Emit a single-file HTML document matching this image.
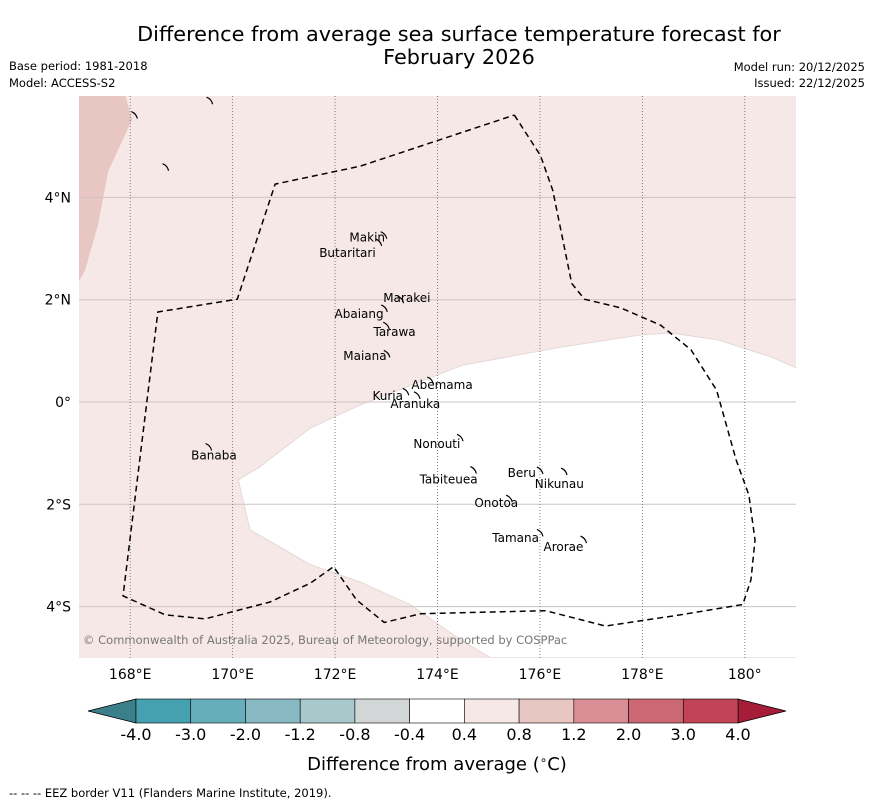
<!DOCTYPE html>
<html><head><meta charset="utf-8">
<style>
body{margin:0;background:#fff;width:873px;height:804px;overflow:hidden;font-family:"Liberation Sans","DejaVu Sans",sans-serif;}
svg text{font-family:"DejaVu Sans","Liberation Sans",sans-serif;}
</style></head>
<body>
<svg id="chart" width="873" height="804" xmlns="http://www.w3.org/2000/svg">
<text x="459" y="41" font-size="20.8" text-anchor="middle">Difference from average sea surface temperature forecast for</text>
<text x="459" y="64" font-size="20.8" text-anchor="middle">February 2026</text>
<text x="9" y="70" font-size="11.5">Base period: 1981-2018</text>
<text x="9" y="87" font-size="11.5">Model: ACCESS-S2</text>
<text x="865" y="71" font-size="11.5" text-anchor="end">Model run: 20/12/2025</text>
<text x="865" y="87" font-size="11.5" text-anchor="end">Issued: 22/12/2025</text>
<g id="map"></g>
<g id="cbar"></g>
<text x="437" y="770" font-size="18" text-anchor="middle">Difference from average (<tspan font-size="12" dy="-6">∘</tspan><tspan dy="6">C)</tspan></text>
<text x="9" y="797" font-size="11.5">--  --  -- EEZ border V11 (Flanders Marine Institute, 2019).</text>
</svg>
<script>
const lonTicks=[168,170,172,174,176,178,180];
const lonLabels=["168°E","170°E","172°E","174°E","176°E","178°E","180°"];
const latTicks=[4,2,0,-2,-4];
const latLabels=["4°N","2°N","0°","2°S","4°S"];
const eezLon=[175.50,176.01,176.25,176.62,176.87,177.58,178.36,178.95,179.45,179.83,180.08,180.20,180.12,179.96,178.75,177.28,176.11,173.67,172.96,172.42,171.97,171.52,170.73,169.46,168.68,167.86,168.54,170.09,170.83,172.49,175.50];
const eezLat=[5.61,4.82,4.14,2.32,2.01,1.84,1.50,1.02,0.23,-1.13,-1.82,-2.70,-3.48,-3.96,-4.16,-4.38,-4.08,-4.14,-4.31,-3.87,-3.22,-3.54,-3.91,-4.24,-4.16,-3.79,1.76,2.01,4.26,4.61,5.61];
const neutralLon=[170.11,170.50,171.52,172.49,174.49,176.40,177.97,178.55,179.49,180.51,181.02,181.02,175.04,174.45,173.47,172.49,171.52,170.34];
const neutralLat=[-1.52,-1.29,-0.51,-0.06,0.72,1.07,1.31,1.35,1.21,0.88,0.66,-5.0,-5.0,-4.65,-3.96,-3.52,-3.18,-2.50];
const warmLon=[167,167.9,168.04,167.57,167.37,167.12,167];
const warmLat=[6,6,5.53,4.51,3.46,2.58,2.36];
const islandNames=["Makin","Butaritari","Marakei","Abaiang","Tarawa","Maiana","Abemama","Kuria","Aranuka","Nonouti","Banaba","Beru","Nikunau","Tabiteuea","Onotoa","Tamana","Arorae"];
const islandLon=[172.28,171.69,172.94,171.99,172.75,172.16,173.49,172.73,173.08,173.53,169.19,175.37,175.90,173.65,174.72,175.07,176.07];
const islandLat=[3.22,2.91,2.03,1.72,1.37,0.90,0.33,0.12,-0.04,-0.82,-1.05,-1.39,-1.60,-1.52,-1.97,-2.66,-2.83];
const atollLon=[172.95,172.85,173.28,172.96,173.00,173.01,173.86,173.38,173.60,174.44,169.53,176.00,176.47,174.70,175.40,176.00,176.85,169.55,168.69,168.08];
const atollLat=[3.27,3.13,2.01,1.84,1.50,0.95,0.43,0.21,0.14,-0.69,-0.87,-1.33,-1.35,-1.32,-1.88,-2.55,-2.68,5.90,4.60,5.62];
const cbLabels=["-4.0","-3.0","-2.0","-1.2","-0.8","-0.4","0.4","0.8","1.2","2.0","3.0","4.0"];
const cbColors=["#45a0b0","#67aebb","#88b8c1","#a8c9cc","#d3d6d6","#ffffff","#f5e8e6","#e8c6c2","#d98e95","#cc6873","#c04455"];
const cbLow="#3a7f8a", cbHigh="#a61d3a";

const NS="http://www.w3.org/2000/svg";
const X0=79,X1=796,Y0=96,Y1=658;
const lonMin=167,lonMax=181;
const xs=l=>X0+(l-lonMin)*(X1-X0)/(lonMax-lonMin);
const ys=l=>402-l*51.15;
function mk(tag,attrs,parent){const e=document.createElementNS(NS,tag);for(const k in attrs)e.setAttribute(k,attrs[k]);parent.appendChild(e);return e;}
const map=document.getElementById('map');
const clip=mk('clipPath',{id:'mclip'},mk('defs',{},map));
mk('rect',{x:X0,y:Y0,width:X1-X0,height:Y1-Y0},clip);
let bg=mk('rect',{x:X0,y:Y0,width:X1-X0,height:Y1-Y0,fill:'#f5e8e6'},map);


const g=mk('g',{'clip-path':'url(#mclip)'},map);
let wp=mk('polygon',{points:warmLon.map((l,i)=>xs(l)+','+ys(warmLat[i])).join(' '),fill:'#e8c6c2'},g);


let np=mk('polygon',{points:neutralLon.map((l,i)=>xs(l)+','+ys(neutralLat[i])).join(' '),fill:'#ffffff',stroke:'#e0d4d2','stroke-width':0.8},g);


latTicks.forEach((t,i)=>{
  let l=mk('line',{x1:X0,x2:X1,y1:ys(t),y2:ys(t),stroke:'#cfc3c3','stroke-width':1},map);
  
  
  let tx=mk('text',{x:71,y:ys(t)+5,'font-size':14,'text-anchor':'end'},map);
  tx.textContent=latLabels[i];
  
  
});
lonTicks.forEach((t,i)=>{
  let l=mk('line',{x1:xs(t),x2:xs(t),y1:Y0,y2:Y1,stroke:'#666','stroke-width':0.8,'stroke-dasharray':'1,2'},map);
  
  
  let tx=mk('text',{x:xs(t),y:679,'font-size':14,'text-anchor':'middle'},map);
  tx.textContent=lonLabels[i];
  
  
});
let eez=mk('polyline',{points:eezLon.map((l,i)=>xs(l)+','+ys(eezLat[i])).join(' '),fill:'none',stroke:'#000','stroke-width':1.5,'stroke-dasharray':'6,4'},map);


atollLon.forEach((l,i)=>{
  const x=xs(l),y=ys(atollLat[i]);
  let a=mk('path',{d:`M${x-3},${y-3} Q${x+2},${y-1} ${x+3},${y+4}`,fill:'none',stroke:'#000','stroke-width':1.2},map);
  
  
});
islandNames.forEach((n,i)=>{
  let tx=mk('text',{x:xs(islandLon[i]),y:ys(islandLat[i])+4,'font-size':12},map);
  tx.textContent=n;
  
  
});
let cp=mk('text',{x:83,y:644,'font-size':11.5,fill:'#777'},map);
cp.textContent="© Commonwealth of Australia 2025, Bureau of Meteorology, supported by COSPPac";



const cb=document.getElementById('cbar');
const cbX0=136,cbX1=738,cbY=699,cbH=24,n=cbColors.length,w=(cbX1-cbX0)/n;
let lt=mk('polygon',{points:`88,${cbY+cbH/2} ${cbX0},${cbY} ${cbX0},${cbY+cbH}`,fill:cbLow,stroke:'#000','stroke-width':0.8},cb);


let rt=mk('polygon',{points:`786,${cbY+cbH/2} ${cbX1},${cbY} ${cbX1},${cbY+cbH}`,fill:cbHigh,stroke:'#000','stroke-width':0.8},cb);


cbColors.forEach((c,i)=>{
  let r=mk('rect',{x:cbX0+i*w,y:cbY,width:w,height:cbH,fill:c,stroke:'#000','stroke-width':0.6},cb);
  
  
});
cbLabels.forEach((s,i)=>{
  let tx=mk('text',{x:cbX0+i*w,y:740,'font-size':16,'text-anchor':'middle'},cb);
  tx.textContent=s;
  
  
});
</script>
</body></html>
